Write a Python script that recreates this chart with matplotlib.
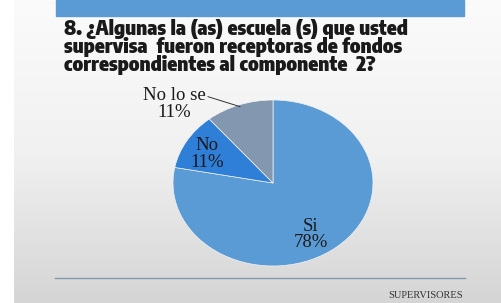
import numpy as np
import matplotlib.pyplot as plt
from matplotlib.patches import Rectangle
from matplotlib.colors import LinearSegmentedColormap

# slide-style pie chart
labels = ['Si', 'No', 'No lo se']
values = [78, 11, 11]
colors = ['#5b9bd5', '#2f7ed8', '#8497b0']
title_lines = ['8. ¿Algunas la (as) escuela (s) que usted',
               'supervisa  fueron receptoras de fondos',
               'correspondientes al componente  2?']
footer = 'SUPERVISORES'

W, H = 502, 303
fig = plt.figure(figsize=(W / 100, H / 100), dpi=100)

# background in pixel coords
bg = fig.add_axes([0, 0, 1, 1])
bg.set_xlim(0, W)
bg.set_ylim(H, 0)
bg.axis('off')
grad = np.tile(np.linspace(0, 1, 200).reshape(-1, 1), (1, 2))
cmap = LinearSegmentedColormap.from_list('g', ['#fbfbfb', '#f1f1f1', '#d5d5d5'])
bg.imshow(grad, cmap=cmap, extent=[14, W, H, 0], aspect='auto', zorder=0)
bg.add_patch(Rectangle((56, 0), 408, 16, color='#5b9bd5', zorder=1))
bg.plot([55, 465], [278, 278], color='#8496b0', lw=1, zorder=1)

ys = [29, 47, 65]
for t, y in zip(title_lines, ys):
    bg.text(64, y, t, fontsize=14.6, fontweight=900,
            family=['Encode Sans Condensed', 'DejaVu Sans'],
            color='#1a1a1a', va='center', ha='left')
bg.text(426, 296, footer, fontsize=7.5, family='Liberation Serif', color='#333333',
        ha='center', va='center')

# pie: center (273,183), rx 100, ry 83
cx, cy, rx, ry = 273, 183, 100, 83
ax = fig.add_axes([(cx - rx) / W, 1 - (cy + ry) / H, 2 * rx / W, 2 * ry / H])
wedges, _ = ax.pie(values, colors=colors, startangle=90, counterclock=False,
                   wedgeprops=dict(edgecolor='#f4f4f4', linewidth=0.5))
ax.set_aspect('auto')
ax.set_xlim(-1, 1)
ax.set_ylim(-1, 1)

lab_pos = [(0.38, -0.62), (-0.66, 0.35), (-0.99, 0.95)]
for lab, v, (x, y) in zip(labels, values, lab_pos):
    ax.text(x, y, f'{lab}\n{v}%', ha='center', va='center', fontsize=13.5,
            family='Liberation Serif', color='#1a1a1a', linespacing=0.95)
ax.plot([-0.65, -0.33], [1.04, 0.92], color='#333333', lw=0.7, clip_on=False)

fig.savefig('out.png', dpi=100)
